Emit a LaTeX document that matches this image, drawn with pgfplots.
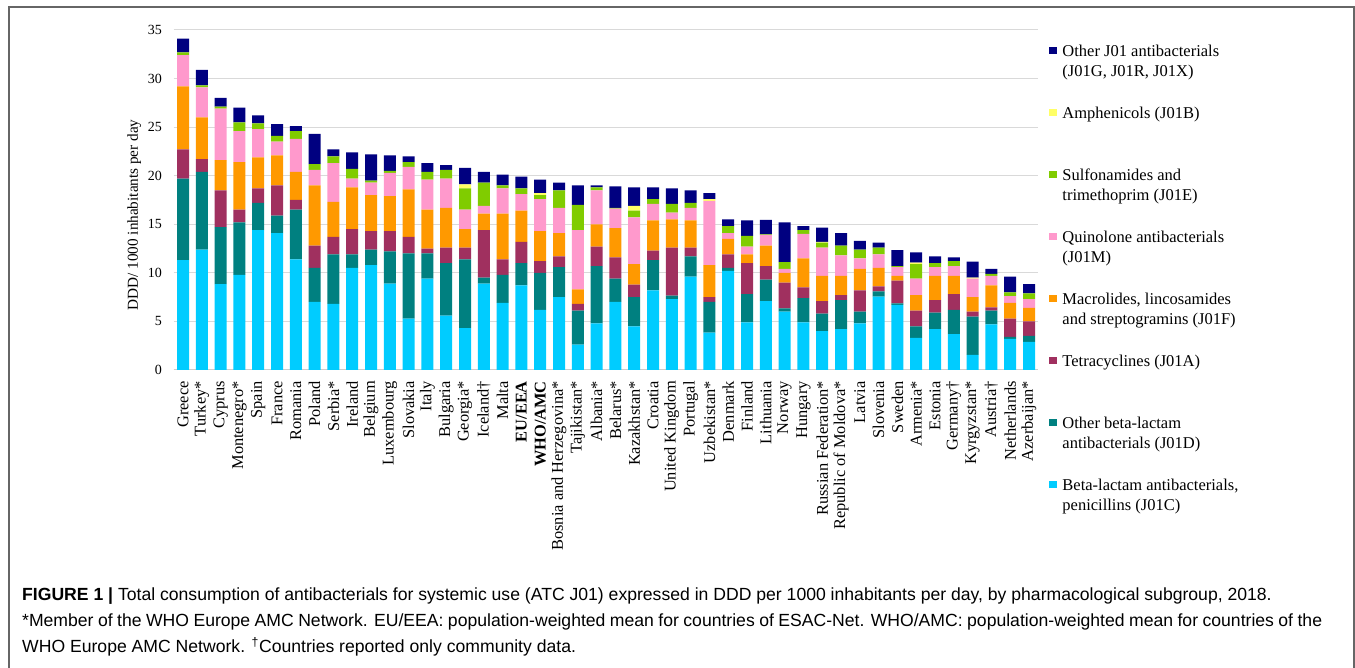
\documentclass[border=0pt]{standalone}
\usepackage{fontspec}
\setmainfont{Liberation Serif}
\newfontfamily\capfont{Liberation Sans}
\usepackage{pgfplots}
\usepackage{pgfplotstable}
\pgfplotsset{compat=1.18}

\definecolor{cPen}{HTML}{00CCFF}
\definecolor{cBeta}{HTML}{008080}
\definecolor{cTet}{HTML}{A0305F}
\definecolor{cMac}{HTML}{FF9900}
\definecolor{cQui}{HTML}{FF99CC}
\definecolor{cSul}{HTML}{80CC00}
\definecolor{cAmp}{HTML}{FFFF66}
\definecolor{cOth}{HTML}{000080}

% DDD per 1000 inhabitants per day, by subgroup (J01C, D, A, F, M, E, B, other)
\pgfplotstableread{
x  c     d     a     f     m    e     b     g
0  11.3  8.4   3.0   6.5   3.2  0.3   0.0   1.4
1  12.4  8.0   1.3   4.3   3.1  0.2   0.0   1.6
2  8.85  5.85  3.8   3.1   5.3  0.2   0.0   0.9
3  9.8   5.4   1.3   4.9   3.2  0.9   0.0   1.5
4  14.4  2.8   1.5   3.2   2.9  0.6   0.0   0.8
5  14.1  1.8   3.1   3.1   1.4  0.6   0.0   1.2
6  11.4  5.1   1.0   2.9   3.4  0.8   0.0   0.5
7  7.0   3.5   2.3   6.2   1.6  0.6   0.0   3.1
8  6.8   5.1   1.8   3.6   4.0  0.7   0.0   0.7
9  10.5  1.4   2.6   4.3   0.9  1.0   0.0   1.7
10 10.8  1.6   1.9   3.7   1.3  0.2   0.0   2.7
11 8.9   3.3   2.1   3.6   2.4  0.2   0.0   1.6
12 5.3   6.7   1.7   4.9   2.3  0.5   0.0   0.6
13 9.4   2.6   0.5   4.0   3.1  0.8   0.0   0.9
14 5.6   5.4   1.6   4.1   3.0  0.9   0.0   0.5
15 4.3   7.1   1.2   1.9   2.0  2.2   0.4   1.7
16 8.9   0.6   4.9   1.7   0.8  2.4   0.0   1.1
17 6.9   2.9   1.6   4.7   2.6  0.3   0.0   1.1
18 8.7   2.3   2.2   3.2   1.7  0.6   0.0   1.2
19 6.2   3.8   1.2   3.1   3.3  0.4   0.2   1.4
20 7.5   3.1   1.1   2.4   2.6  1.8   0.0   0.8
21 2.6   3.5   0.7   1.5   6.1  2.6   0.0   2.0
22 4.8   5.9   2.0   2.3   3.5  0.3   0.0   0.2
23 7.0   2.4   2.2   3.0   2.0  0.1   0.0   2.2
24 4.5   3.0   1.3   2.1   4.8  0.7   0.5   1.9
25 8.2   3.1   1.0   3.1   1.7  0.5   0.0   1.2
26 7.3   0.35  4.95  2.9   0.7  0.9   0.0   1.6
27 9.6   2.1   0.9   2.8   1.3  0.5   0.0   1.3
28 3.85  3.15  0.5   3.3   6.6  0.0   0.2   0.6
29 10.2  0.3   1.4   1.6   0.6  0.7   0.0   0.7
30 4.9   2.9   3.2   0.9   0.8  1.1   0.0   1.6
31 7.1   2.2   1.4   2.1   1.1  0.05  0.0   1.5
32 6.0   0.35  2.65  1.0   0.4  0.7   0.0   4.1
33 4.9   2.5   1.1   3.0   2.5  0.4   0.0   0.4
34 4.0   1.8   1.3   2.6   2.9  0.5   0.1   1.45
35 4.2   3.0   0.5   2.0   2.1  1.0   0.0   1.3
36 4.8   1.2   2.2   2.2   1.1  0.9   0.0   0.9
37 7.55  0.55  0.5   1.9   1.4  0.7   0.0   0.5
38 6.7   0.15  2.35  0.5   0.9  0.1   0.0   1.65
39 3.3   1.2   1.6   1.6   1.7  1.5   0.15  1.05
40 4.2   1.7   1.3   2.5   0.9  0.4   0.0   0.7
41 3.7   2.5   1.6   1.9   1.0  0.5   0.0   0.4
42 1.55  3.95  0.5   1.5   1.9  0.0   0.1   1.65
43 4.7   1.4   0.35  2.25  1.0  0.2   0.0   0.5
44 3.2   0.2   1.9   1.6   0.7  0.4   0.0   1.6
45 2.9   0.6   1.5   1.4   0.9  0.6   0.0   0.95
}\amcdata

\newcommand{\lgd}[1]{\parbox[t]{260pt}{#1}}

\begin{document}
\begin{tikzpicture}
\draw[gray!80!black, line width=1.2pt] (9pt,0pt) -- (9pt,661pt) -- (1354pt,661pt) -- (1354pt,0pt);

\begin{axis}[
  at={(173.6pt,298pt)}, anchor=south west,
  scale only axis, width=864.8pt, height=340pt,
  ybar stacked, bar width=12pt,
  xmin=-0.5, xmax=45.5, ymin=0, ymax=35,
  enlargelimits=false,
  axis lines*=left,
  y axis line style={draw=none},
  x axis line style={draw=gray!40, line width=1pt},
  tick style={draw=none},
  ymajorgrids, grid style={draw=gray!30, line width=1pt},
  ytick={0,5,...,35},
  xtick={0,...,45},
  xticklabels={Greece,Turkey*,Cyprus,Montenegro*,Spain,France,Romania,Poland,Serbia*,Ireland,Belgium,Luxembourg,Slovakia,Italy,Bulgaria,Georgia*,Iceland†,Malta,{\bfseries EU/EEA},{\bfseries WHO/AMC},Bosnia and Herzegovina*,Tajikistan*,Albania*,Belarus*,Kazakhstan*,Croatia,United Kingdom,Portugal,Uzbekistan*,Denmark,Finland,Lithuania,Norway,Hungary,Russian Federation*,Republic of Moldova*,Latvia,Slovenia,Sweden,Armenia*,Estonia,Germany†,Kyrgyzstan*,Austria†,Netherlands,Azerbaijan*},
  xticklabel style={rotate=90, anchor=east, inner sep=0pt, font=\fontsize{16.4}{18}\selectfont},
  xticklabel shift=11pt,
  yticklabel style={anchor=east, inner sep=0pt, font=\fontsize{14}{16}\selectfont},
  yticklabel shift=11.5pt,
  /pgf/number format/assume math mode=true,
  ylabel={DDD/ 1000 inhabitants per day},
  every axis y label/.style={at={(axis description cs:-0.0412,0.456)}, rotate=90, anchor=base, font=\fontsize{15.2}{17}\selectfont},
  reverse legend,
  legend image code/.code={\fill[#1, draw=none] (0pt,2pt) rectangle (8pt,9.5pt);},
  legend style={at={(axis description cs:1.0128,0.9588)}, anchor=north west,
    draw=none, fill=none, inner sep=0pt, outer sep=0pt,
    row sep=0pt, column sep=5pt,
    cells={anchor=base west},
    nodes={inner sep=0pt, text height=12pt, text depth=50pt, font=\fontsize{16.5}{20}\selectfont}},
]
\addplot[fill=cPen, draw=none] table[x=x, y=c]{\amcdata};
\addlegendentry{\lgd{Beta-lactam antibacterials,\\penicillins (J01C)}}
\addplot[fill=cBeta, draw=none] table[x=x, y=d]{\amcdata};
\addlegendentry{\lgd{Other beta-lactam\\antibacterials (J01D)}}
\addplot[fill=cTet, draw=none] table[x=x, y=a]{\amcdata};
\addlegendentry{\lgd{Tetracyclines (J01A)}}
\addplot[fill=cMac, draw=none] table[x=x, y=f]{\amcdata};
\addlegendentry{\lgd{Macrolides, lincosamides\\and streptogramins (J01F)}}
\addplot[fill=cQui, draw=none] table[x=x, y=m]{\amcdata};
\addlegendentry{\lgd{Quinolone antibacterials\\(J01M)}}
\addplot[fill=cSul, draw=none] table[x=x, y=e]{\amcdata};
\addlegendentry{\lgd{Sulfonamides and\\trimethoprim (J01E)}}
\addplot[fill=cAmp, draw=none] table[x=x, y=b]{\amcdata};
\addlegendentry{\lgd{Amphenicols (J01B)}}
\addplot[fill=cOth, draw=none] table[x=x, y=g]{\amcdata};
\addlegendentry{\lgd{Other J01 antibacterials\\(J01G, J01R, J01X)}}
\end{axis}

\begin{scope}[every node/.style={anchor=base west, inner sep=0pt, font=\capfont\fontsize{17.6}{20}\selectfont}]
\node at (22pt,67pt) {\textbf{FIGURE 1 |} Total consumption of antibacterials for systemic use (ATC J01) expressed in DDD per 1000 inhabitants per day, by pharmacological subgroup, 2018.};
\node at (22pt,41pt) {\makebox[1300pt][s]{*Member of the WHO Europe AMC Network. EU/EEA: population-weighted mean for countries of ESAC-Net. WHO/AMC: population-weighted mean for countries of the}};
\node at (22pt,15pt) {WHO Europe AMC Network. \textsuperscript{†}Countries reported only community data.};
\end{scope}

\pgfresetboundingbox
\useasboundingbox (0pt,0pt) rectangle (1355pt,668pt);
\end{tikzpicture}
\end{document}
